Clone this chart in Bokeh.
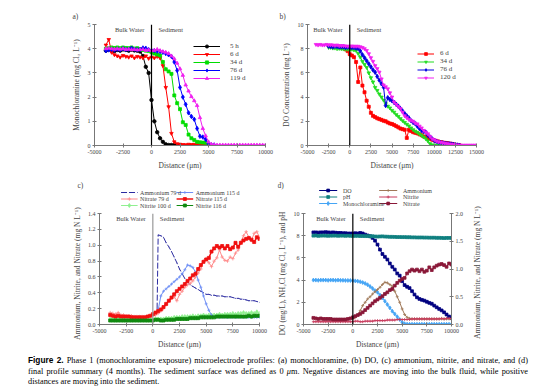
import math
from bokeh.plotting import figure
from bokeh.models import (Range1d, LinearAxis, FixedTicker, Span, Label, Legend,
                          LegendItem, Div)
from bokeh.layouts import row, column
from bokeh.embed import file_html
from bokeh.resources import INLINE

FONT = "Liberation Serif"

# ---------------- tick labels ----------------
x_ticks_a = [-5000, -2500, 0, 2500, 5000, 7500, 10000]
x_labels_a = ["-5000", "-2500", "0", "2500", "5000", "7500", "10000"]
x_ticks_b = [-5000, -2500, 0, 2500, 5000, 7500, 10000, 12500, 15000]
x_labels_b = ["-5000", "-2500", "0", "2500", "5000", "7500", "10000", "12500", "15000"]
y_ticks_a = [0, 1, 2, 3, 4, 5]
y_labels_a = ["0", "1", "2", "3", "4", "5"]
y_ticks_b = [0, 2, 4, 6, 8, 10]
y_labels_b = ["0", "2", "4", "6", "8", "10"]
y_ticks_c = [0, 0.2, 0.4, 0.6, 0.8, 1.0, 1.2, 1.4]
y_labels_c = ["0.0", "0.2", "0.4", "0.6", "0.8", "1.0", "1.2", "1.4"]
y_ticks_dr = [0, 0.5, 1.0, 1.5, 2.0]
y_labels_dr = ["0.0", "0.5", "1.0", "1.5", "2.0"]

# ---------------- panel a: monochloramine (mg Cl2/L) ----------------
a_x_5h = list(range(-4000, 2501, 250))
a_y_5h = [3.92, 3.97, 3.93, 3.90, 3.95, 3.92, 3.97, 3.95, 3.92, 3.96, 3.93, 3.92,
          3.88, 3.70, 3.25, 3.00, 1.88, 1.00, 0.55, 0.30, 0.15, 0.05, 0.02, 0.02,
          0.02, 0.02, 0.02]
a_x_6d = list(range(-4000, 5001, 250))
a_y_6d = [4.15, 4.38, 3.85, 3.75, 3.70, 3.65, 3.72, 3.68, 3.65, 3.70, 3.62, 3.68,
          3.65, 3.62, 3.70, 3.60, 3.65, 3.62, 3.68, 3.62, 3.30, 2.40, 1.60, 0.50,
          0.15, 0.07, 0.05, 0.04, 0.03, 0.05, 0.04, 0.05, 0.04, 0.03, 0.03, 0.02,
          0.02]
a_x_34d = list(range(-4000, 5001, 250))
a_y_34d = [4.00, 4.02, 4.05, 4.03, 4.05, 4.02, 4.05, 4.03, 4.02, 4.05, 4.00, 4.02,
           3.98, 3.95, 3.92, 3.90, 3.85, 3.80, 3.76, 3.72, 3.45, 3.15, 3.06, 2.96,
           2.07, 1.75, 1.50, 0.96, 0.85, 0.45, 0.30, 0.23, 0.15, 0.13, 0.12, 0.11,
           0.03]
a_x_76d = list(range(-4000, 5501, 250))
a_y_76d = [3.92, 3.95, 3.97, 3.95, 3.98, 3.96, 4.00, 3.97, 3.98, 4.02, 3.98, 3.96,
           3.97, 4.03, 4.02, 3.96, 3.93, 3.92, 3.90, 3.88, 3.85, 3.80, 3.75, 3.68,
           3.45, 3.10, 2.40, 2.00, 1.70, 1.35, 1.20, 1.08, 0.70, 0.38, 0.35, 0.25,
           0.08, 0.03, 0.02]
a_x_119d = list(range(-4000, 10001, 250))
a_y_119d = [4.00, 4.02, 4.00, 3.98, 4.00, 3.98, 4.00, 3.97, 3.98, 3.96, 3.97, 3.95,
            3.96, 3.97, 3.93, 3.95, 3.92, 3.93, 3.97, 3.92, 3.88, 3.85, 3.80, 3.70,
            3.58, 3.40, 3.17, 2.90, 2.50, 2.25, 2.02, 1.85, 1.65, 1.15, 0.70, 0.40,
            0.15, 0.05, 0.03, 0.02, 0.02, 0.02, 0.02, 0.02, 0.02, 0.02, 0.02, 0.02,
            0.02, 0.02, 0.02, 0.02, 0.02, 0.02, 0.02, 0.02, 0.02]

# ---------------- panel b: DO (mg/L) ----------------
b_x_6d = list(range(-1000, 13001, 250))
b_y_6d = [8.10, 8.05, 7.95, 7.80, 7.55, 7.44, 7.30, 6.90, 5.25, 6.45, 4.95, 4.40,
          3.70, 3.20, 2.70, 2.45, 2.35, 2.25, 2.18, 2.12, 2.05, 2.00, 1.90, 1.82,
          1.78, 1.70, 1.60, 1.50, 1.40, 1.35, 1.30, 0.63, 1.30, 1.20, 1.10, 1.05,
          1.00, 0.92, 0.85, 0.75, 0.70, 0.60, 0.55, 0.48, 0.42, 0.38, 0.33, 0.28,
          0.25, 0.22, 0.20, 0.17, 0.14, 0.10, 0.06, 0.04, 0.02]
b_x_34d = list(range(-2500, 11001, 250))
b_y_34d = [8.10, 8.10, 8.05, 8.05, 8.00, 8.02, 8.00, 7.97, 7.95, 7.95, 7.90, 7.95,
           7.90, 7.85, 7.60, 7.30, 6.95, 6.70, 6.45, 6.00, 5.60, 5.25, 4.80, 4.55,
           4.25, 4.00, 3.75, 3.45, 3.25, 3.10, 2.90, 2.75, 2.55, 2.40, 2.22, 2.05,
           1.90, 1.75, 1.62, 1.45, 1.30, 1.18, 1.08, 0.95, 0.83, 0.70, 0.55, 0.38,
           0.15, 0.05, 0.02, 0.02, 0.02, 0.02, 0.02]
b_x_76d = list(range(-2500, 13001, 250))
b_y_76d = [8.20, 8.18, 8.15, 8.20, 8.18, 8.15, 8.15, 8.15, 8.10, 8.12, 8.10, 8.10,
           8.10, 8.05, 8.02, 7.80, 7.50, 7.25, 7.00, 6.75, 6.50, 6.25, 6.05, 5.70,
           5.40, 5.10, 4.82, 3.30, 3.95, 3.80, 3.70, 3.55, 3.40, 3.25, 3.05, 2.85,
           2.65, 2.45, 2.28, 2.05, 1.90, 1.80, 1.60, 1.40, 1.24, 1.15, 1.10, 0.85,
           0.70, 0.55, 0.42, 0.35, 0.28, 0.24, 0.22, 0.18, 0.15, 0.14, 0.12, 0.10,
           0.06, 0.04, 0.02]
b_x_120d = list(range(-4000, 15001, 250))
b_y_120d = [8.35, 8.30, 8.35, 8.30, 8.30, 8.35, 8.30, 8.32, 8.30, 8.27, 8.30, 8.25,
            8.25, 8.25, 8.22, 8.20, 8.20, 8.22, 8.20, 8.20, 8.20, 8.15, 8.10, 8.00,
            7.85, 7.58, 7.25, 6.95, 6.60, 6.35, 6.06, 5.50, 5.00, 4.85, 4.68, 4.35,
            4.00, 3.58, 3.40, 3.22, 3.05, 2.75, 2.45, 2.29, 2.15, 2.07, 2.00, 1.85,
            1.78, 1.60, 1.45, 1.25, 1.10, 0.96, 0.75, 0.55, 0.48, 0.38, 0.30, 0.26,
            0.22, 0.18, 0.15, 0.12, 0.10, 0.07, 0.05, 0.03, 0.02, 0.02, 0.02, 0.02,
            0.02, 0.02, 0.02, 0.02, 0.02]

# ---------------- panel c: ammonium, nitrite, nitrate (mg N/L) ----------------
c_x_amm79 = [400] + list(range(500, 10001, 250))
c_y_amm79 = [0.20,
             1.13, 1.12, 1.10, 1.03, 0.98, 0.92, 0.85, 0.78, 0.70, 0.64, 0.58, 0.54,
             0.50, 0.48, 0.46, 0.44, 0.42, 0.40, 0.38, 0.38, 0.37, 0.37, 0.36, 0.36,
             0.36, 0.35, 0.35, 0.35, 0.34, 0.33, 0.33, 0.32, 0.32, 0.31, 0.30, 0.30,
             0.30, 0.29, 0.28]
c_x_amm115 = list(range(500, 10001, 250))
c_y_amm115 = [0.18, 0.36, 0.42, 0.45, 0.48, 0.51, 0.54, 0.57, 0.60, 0.64, 0.69, 0.75,
              0.74, 0.72, 0.66, 0.56, 0.47, 0.36, 0.26, 0.18, 0.12, 0.10, 0.09, 0.09,
              0.09, 0.09, 0.09, 0.09, 0.09, 0.09, 0.09, 0.09, 0.09, 0.09, 0.09, 0.09,
              0.09, 0.09, 0.09]
c_x_nit = list(range(-4000, 10001, 250))
c_y_nitrate79 = [0.15, 0.14, 0.13, 0.15, 0.12, 0.12, 0.11, 0.11, 0.11, 0.10, 0.10, 0.10,
                 0.10, 0.10, 0.10, 0.10, 0.11, 0.12, 0.14, 0.17, 0.20, 0.25, 0.30, 0.33,
                 0.35, 0.30, 0.38, 0.42, 0.47, 0.50, 0.52, 0.55, 0.60, 0.65, 0.70, 0.80,
                 0.83, 0.78, 0.73, 0.80, 0.84, 0.94, 0.85, 0.81, 0.80, 0.85, 0.83, 0.90,
                 0.94, 1.04, 1.12, 1.17, 1.10, 1.06, 1.15, 1.17, 1.10]
c_y_nitrate115 = [0.12, 0.11, 0.10, 0.11, 0.10, 0.10, 0.10, 0.10, 0.09, 0.09, 0.09, 0.09,
                  0.09, 0.09, 0.10, 0.11, 0.13, 0.15, 0.17, 0.19, 0.22, 0.26, 0.30, 0.34,
                  0.38, 0.42, 0.45, 0.48, 0.51, 0.55, 0.58, 0.62, 0.64, 0.70, 0.75, 0.79,
                  0.82, 0.84, 0.92, 0.96, 0.99, 0.97, 0.99, 0.96, 0.99, 0.95, 0.97, 1.03,
                  0.98, 1.03, 1.06, 1.08, 1.09, 1.07, 1.04, 1.10, 1.08]
c_y_nitrite100 = [0.07, 0.07, 0.08, 0.07, 0.07, 0.07, 0.06, 0.07, 0.07, 0.06, 0.07, 0.07,
                  0.06, 0.07, 0.06, 0.06, 0.06, 0.07, 0.07, 0.07, 0.07, 0.08, 0.08, 0.08,
                  0.09, 0.09, 0.09, 0.10, 0.10, 0.10, 0.10, 0.11, 0.10, 0.11, 0.11, 0.12,
                  0.11, 0.12, 0.12, 0.12, 0.12, 0.13, 0.12, 0.13, 0.13, 0.13, 0.14, 0.13,
                  0.14, 0.14, 0.15, 0.14, 0.14, 0.15, 0.14, 0.16, 0.14]
c_y_nitrite116 = [0.05, 0.05, 0.05, 0.05, 0.05, 0.05, 0.05, 0.05, 0.05, 0.05, 0.05, 0.05,
                  0.05, 0.05, 0.05, 0.05, 0.05, 0.06, 0.06, 0.05, 0.05, 0.06, 0.06, 0.06,
                  0.06, 0.07, 0.07, 0.07, 0.07, 0.07, 0.08, 0.08, 0.08, 0.08, 0.09, 0.09,
                  0.09, 0.09, 0.09, 0.09, 0.10, 0.10, 0.10, 0.10, 0.10, 0.10, 0.10, 0.10,
                  0.10, 0.10, 0.10, 0.10, 0.11, 0.10, 0.11, 0.11, 0.11]

# ---------------- panel d: final profile summary ----------------
d_x = list(range(-4000, 10001, 250))
d_y_do = [8.30, 8.30, 8.28, 8.30, 8.30, 8.32, 8.30, 8.28, 8.30, 8.27, 8.25, 8.25,
          8.22, 8.22, 8.20, 8.20, 8.20, 8.22, 8.20, 8.25, 8.20, 8.10, 8.02, 7.95,
          7.80, 7.55, 7.20, 6.75, 6.35, 6.10, 5.85, 5.50, 5.20, 4.95, 4.60, 4.40,
          3.90, 3.55, 3.40, 3.28, 3.00, 2.70, 2.45, 2.30, 2.22, 2.15, 2.05, 1.95,
          1.87, 1.70, 1.55, 1.40, 1.27, 1.10, 0.90, 0.72, 0.57]
d_y_ph = [8.00, 8.02, 7.98, 8.00, 8.01, 8.00, 7.99, 8.00, 8.00, 8.01, 7.99, 8.00,
          8.00, 7.99, 8.00, 7.99, 7.98, 7.98, 7.99, 7.97, 7.97, 7.96, 7.96, 7.95,
          7.95, 7.93, 7.92, 7.93, 7.94, 7.92, 7.91, 7.90, 7.90, 7.89, 7.88, 7.88,
          7.87, 7.87, 7.86, 7.86, 7.85, 7.85, 7.84, 7.84, 7.84, 7.83, 7.83, 7.82,
          7.82, 7.82, 7.81, 7.81, 7.80, 7.79, 7.80, 7.80, 7.80]
d_y_mono = [4.00, 4.00, 3.98, 4.00, 4.00, 4.00, 3.98, 4.00, 4.00, 3.98, 4.00, 3.98,
            3.98, 3.97, 3.97, 3.96, 3.95, 3.93, 3.90, 3.85, 3.78, 3.70, 3.58, 3.42,
            3.25, 3.05, 2.90, 2.65, 2.40, 2.10, 1.80, 1.50, 1.20, 0.95, 0.70, 0.45,
            0.20, 0.07, 0.03, 0.02, 0.02, 0.02, 0.02, 0.02, 0.02, 0.02, 0.02, 0.02,
            0.02, 0.02, 0.02, 0.02, 0.02, 0.02, 0.02, 0.02, 0.02]
d_x_amm = list(range(0, 10001, 250))
d_y_amm = [0.10, 0.13, 0.18, 0.25, 0.34, 0.40, 0.46, 0.50, 0.55, 0.59, 0.63, 0.67,
           0.72, 0.76, 0.75, 0.72, 0.69, 0.60, 0.50, 0.40, 0.28, 0.18, 0.13, 0.11,
           0.10, 0.10, 0.10, 0.10, 0.10, 0.10, 0.10, 0.10, 0.10, 0.10, 0.10, 0.10,
           0.10, 0.10, 0.10, 0.10, 0.10]
d_y_nitrite = c_y_nitrite116
d_y_nitrate = c_y_nitrate115

# ---------------- texts ----------------
X_TITLE = "Distance (\u03bcm)"
Y_TITLE_A = "Monochloramine (mg Cl\u2082 L\u207b\u00b9)"
Y_TITLE_B = "DO Concentration (mg L\u207b\u00b9)"
Y_TITLE_C = "Ammonium, Nitrite, and Nitrate (mg N L\u207b\u00b9)"
Y_TITLE_D = "DO (mg/L), NH\u2082Cl (mg Cl\u2082 L\u207b\u00b9), and pH"
Y_TITLE_DR = "Ammonium, Nitrite, and Nitrate (mg N L\u207b\u00b9)"
CAPTION_HEAD = "Figure 2."
CAPTION_LINES = [
    "Phase 1 (monochloramine exposure) microelectrode profiles: (a) monochloramine, (b) DO, (c) ammonium, nitrite, and nitrate, and (d)",
    "final profile summary (4 months). The sediment surface was defined as 0 <i>\u03bc</i>m. Negative distances are moving into the bulk fluid, while positive",
    "distances are moving into the sediment.",
]

# ---------------- series styles (legend order: column by column) ----------------
ST_C = {
    "Ammonium 79 d": dict(color="#2B2BA0", marker="dot", size=4, dash="6 2"),
    "Nitrate 79 d": dict(color="#FF8A8A", marker="cross", size=3.5),
    "Nitrite 100 d": dict(color="#90F090", marker="diamond", size=4),
    "Ammonium 115 d": dict(color="#6F8FF5", marker="cross", size=3),
    "Nitrate 115 d": dict(color="#F01010", marker="square", size=3, width=1.5),
    "Nitrite 116 d": dict(color="#108A10", marker="square", size=3),
}
ST_D = {
    "DO": dict(color="#000080", marker="square", size=2.8),
    "pH": dict(color="#108080", marker="square", size=2.8),
    "Monochloramine": dict(color="#45A5F5", marker="diamond", size=4),
    "Ammonium": dict(color="#A07858", marker="cross", size=3),
    "Nitrite": dict(color="#C83A5C", marker="cross", size=3),
    "Nitrate": dict(color="#8A1838", marker="square", size=2.8),
}


# ---------------- helpers ----------------
def make_fig(w, h, xr, yr, bl, br, bt, bb, tag=None, tag_offset=0):
    p = figure(width=w, height=h, x_range=Range1d(*xr), y_range=Range1d(*yr),
               output_backend="svg", toolbar_location=None,
               min_border_left=bl, min_border_right=br,
               min_border_top=bt, min_border_bottom=bb)
    p.outline_line_color = None
    p.xgrid.visible = False
    p.ygrid.visible = False
    if tag is None:
        p.title.visible = False
    else:
        p.title.text = tag
        p.title.align = "left"
        p.title.offset = tag_offset
        p.title.standoff = 7
        p.title.text_font = FONT
        p.title.text_font_size = "7.5px"
        p.title.text_font_style = "normal"
    return p


def strip(w, h):
    """A bare frame (no axes, no borders) whose units are pixels."""
    s = figure(width=w, height=h, x_range=Range1d(0, w), y_range=Range1d(0, h),
               x_axis_type=None, y_axis_type=None, output_backend="svg",
               toolbar_location=None, min_border=0)
    s.grid.visible = False
    s.outline_line_color = None
    s.title.visible = False
    return s


def text(s, x, y, t, angle=0.0, align="left", size="7.5px"):
    s.add_layout(Label(x=x, y=y, text=t, angle=angle, text_align=align,
                       text_baseline="middle", text_font=FONT, text_font_size=size))


def style_axis(ax, ticks, labels, title=None):
    ax.ticker = FixedTicker(ticks=ticks, minor_ticks=[])
    ax.major_label_overrides = {t: l for t, l in zip(ticks, labels)}
    ax.axis_label = title
    ax.axis_label_text_font = FONT
    ax.axis_label_text_font_size = "7.5px"
    ax.axis_label_text_font_style = "normal"
    ax.axis_label_standoff = 4
    ax.major_label_text_font = FONT
    ax.major_label_text_font_size = "6px"
    ax.major_label_standoff = 2
    ax.major_tick_in = 2
    ax.major_tick_out = 2
    ax.minor_tick_line_color = None
    ax.axis_line_color = "#777777"
    ax.major_tick_line_color = "#777777"


def series(p, xs, ys, color, marker, size=3.5, dash="solid", width=1.0, rng=None):
    kw = {} if rng is None else {"y_range_name": rng}
    ln = p.line(xs, ys, line_color=color, line_width=width, line_dash=dash, **kw)
    sc = p.scatter(xs, ys, marker=marker, size=size, fill_color=color,
                   line_color=color, line_width=0.8, **kw)
    return [ln, sc]


def zone(p, ytop, line_color, offset=7):
    p.add_layout(Span(location=0, dimension="height", line_color=line_color,
                      line_width=1.2))
    p.add_layout(Label(x=0, y=ytop, x_offset=-offset, y_offset=-1, text="Bulk Water",
                       text_align="right", text_baseline="top", text_font=FONT,
                       text_font_size="6.5px"))
    p.add_layout(Label(x=0, y=ytop, x_offset=offset, y_offset=-1, text="Sediment",
                       text_align="left", text_baseline="top", text_font=FONT,
                       text_font_size="6.5px"))


def legend(items, fs, gw, gh, lh, standoff, **kw):
    leg = Legend(items=[LegendItem(label=l, renderers=r) for l, r in items], **kw)
    leg.label_text_font = FONT
    leg.label_text_font_size = fs
    leg.glyph_width = gw
    leg.glyph_height = gh
    leg.label_height = lh
    leg.label_standoff = standoff
    leg.spacing = 0
    leg.padding = 0
    leg.margin = 0
    leg.border_line_color = None
    leg.background_fill_alpha = 0
    return leg


def key_strip(w, h, styles, col_x, row_y, glyph_w, standoff):
    """Two-column key drawn above a panel (sample line + marker + name)."""
    s = strip(w, h)
    for i, (name, st) in enumerate(styles.items()):
        c, r = divmod(i, len(row_y))
        x0, y = col_x[c], row_y[r]
        s.line([x0, x0 + glyph_w], [y, y], line_color=st["color"],
               line_width=st.get("width", 1.0), line_dash=st.get("dash", "solid"))
        s.scatter([x0 + glyph_w / 2], [y], marker=st["marker"], size=st["size"],
                  fill_color=st["color"], line_color=st["color"], line_width=0.8)
        text(s, x0 + glyph_w + standoff, y, name, size="6px")
    return s


# ---------------- panel a ----------------
pa = make_fig(277, 176, (-5000, 10000), (0, 5), 94, 12, 24, 31, "a)", -22)
style_axis(pa.xaxis[0], x_ticks_a, x_labels_a, X_TITLE)
style_axis(pa.yaxis[0], y_ticks_a, y_labels_a, Y_TITLE_A)
zone(pa, 5, "black")
ra = [
    ("5 h", series(pa, a_x_5h, a_y_5h, "#000000", "circle")),
    ("6 d", series(pa, a_x_6d, a_y_6d, "#FF0000", "inverted_triangle")),
    ("34 d", series(pa, a_x_34d, a_y_34d, "#00DD00", "square", size=3)),
    ("76 d", series(pa, a_x_76d, a_y_76d, "#0000FF", "diamond", size=4.5)),
    ("119 d", series(pa, a_x_119d, a_y_119d, "#F020F0", "triangle")),
]
pa.add_layout(legend(ra, "7px", 27, 8, 8, 10, location=(99, 63)))

# ---------------- panel b ----------------
pb = make_fig(277, 176, (-5000, 15000), (0, 10), 30, 78, 24, 31, "b)", -28)
style_axis(pb.xaxis[0], x_ticks_b, x_labels_b, X_TITLE)
style_axis(pb.yaxis[0], y_ticks_b, y_labels_b, Y_TITLE_B)
zone(pb, 10, "black")
rb = [
    ("6 d", series(pb, b_x_6d, b_y_6d, "#FF0000", "square", size=3)),
    ("34 d", series(pb, b_x_34d, b_y_34d, "#22DD22", "inverted_triangle")),
    ("76 d", series(pb, b_x_76d, b_y_76d, "#0000E0", "diamond", size=4.5)),
    ("120 d", series(pb, b_x_120d, b_y_120d, "#F020F0", "inverted_triangle")),
]
pb.add_layout(legend(rb, "7px", 17, 7, 7, 6, location=(110, 64)))

# ---------------- panel c ----------------
c_left = strip(84, 176)
text(c_left, 77, 167, "c)")
text(c_left, 77, 79, Y_TITLE_C, angle=math.pi / 2, align="center")
lc = key_strip(193, 33, ST_C, [26, 93], [17, 10.5, 4], 20, 3)
pc = make_fig(193, 143, (-5000, 10000), (0, 1.4), 13, 18, 4, 28)
style_axis(pc.xaxis[0], x_ticks_a, x_labels_a, X_TITLE)
style_axis(pc.yaxis[0], y_ticks_c, y_labels_c)
zone(pc, 1.4, "#999999")
series(pc, c_x_amm79, c_y_amm79, **ST_C["Ammonium 79 d"])
series(pc, c_x_nit, c_y_nitrate79, **ST_C["Nitrate 79 d"])
series(pc, c_x_nit, c_y_nitrite100, **ST_C["Nitrite 100 d"])
series(pc, c_x_amm115, c_y_amm115, **ST_C["Ammonium 115 d"])
series(pc, c_x_nit, c_y_nitrate115, **ST_C["Nitrate 115 d"])
series(pc, c_x_nit, c_y_nitrite116, **ST_C["Nitrite 116 d"])

# ---------------- panel d ----------------
d_left = strip(13, 176)
text(d_left, 0, 167, "d)")
text(d_left, 5, 79, Y_TITLE_D, angle=math.pi / 2, align="center")
ld = key_strip(180, 33, ST_D, [19, 92], [19, 12.5, 6], 22, 7)
pd_ = make_fig(180, 143, (-5000, 10000), (0, 10), 13, 19, 4, 28)
pd_.extra_y_ranges = {"n": Range1d(0, 2)}
style_axis(pd_.xaxis[0], x_ticks_a, x_labels_a, X_TITLE)
style_axis(pd_.yaxis[0], y_ticks_b, y_labels_b)
ax_r = LinearAxis(y_range_name="n")
style_axis(ax_r, y_ticks_dr, y_labels_dr)
pd_.add_layout(ax_r, "right")
zone(pd_, 10, "black")
series(pd_, d_x, d_y_do, **ST_D["DO"])
series(pd_, d_x, d_y_ph, **ST_D["pH"])
series(pd_, d_x, d_y_mono, **ST_D["Monochloramine"])
series(pd_, d_x_amm, d_y_amm, rng="n", **ST_D["Ammonium"])
series(pd_, c_x_nit, d_y_nitrite, rng="n", **ST_D["Nitrite"])
series(pd_, c_x_nit, d_y_nitrate, rng="n", **ST_D["Nitrate"])
d_right = strip(84, 176)
text(d_right, 7, 80, Y_TITLE_DR, angle=math.pi / 2, align="center")

# ---------------- caption ----------------
line_style = ("font-family:'Liberation Serif';font-size:8.3px;line-height:10.5px;"
              "color:#000;white-space:nowrap;")
just = "text-align:justify;text-align-last:justify;"
cap_html = (
    "<div style='margin-left:28px;width:500px;padding-top:3px;'>"
    f"<div style=\"{line_style}{just}\"><span style=\"font-family:'Liberation Sans';"
    f"font-weight:bold;\">{CAPTION_HEAD}</span> {CAPTION_LINES[0]}</div>"
    f"<div style=\"{line_style}{just}\">{CAPTION_LINES[1]}</div>"
    f"<div style=\"{line_style}\">{CAPTION_LINES[2]}</div>"
    "</div>"
)
cap = Div(text=cap_html, width=554, height=39, margin=(0, 0, 0, 0))

layout = column(
    row(pa, pb),
    row(c_left, column(lc, pc), d_left, column(ld, pd_), d_right),
    cap,
)

with open("out.html", "w") as f:
    f.write(file_html(layout, INLINE, title="Figure 2"))
